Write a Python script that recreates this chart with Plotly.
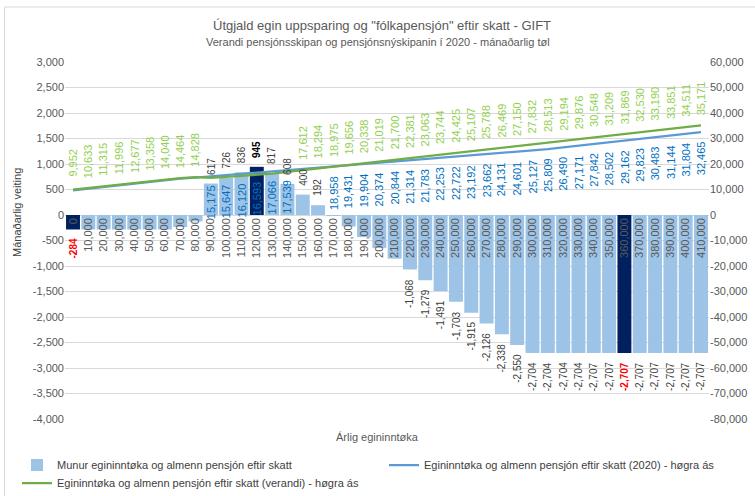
import plotly.graph_objects as go

# ---------------- data ----------------
categories = ["0", "10,000", "20,000", "30,000", "40,000", "50,000", "60,000", "70,000",
              "80,000", "90,000", "100,000", "110,000", "120,000", "130,000", "140,000",
              "150,000", "160,000", "170,000", "180,000", "190,000", "200,000", "210,000",
              "220,000", "230,000", "240,000", "250,000", "260,000", "270,000", "280,000",
              "290,000", "300,000", "310,000", "320,000", "330,000", "340,000", "350,000",
              "360,000", "370,000", "380,000", "390,000", "400,000", "410,000"]

munur = [-284, -284, -284, -284, -284, -284, -284, -235, -126, 617, 726, 836, 945, 817,
         608, 400, 192, -17, -225, -434, -645, -856, -1068, -1279, -1491, -1703, -1915,
         -2126, -2338, -2550, -2704, -2704, -2704, -2704, -2707, -2707, -2707, -2707,
         -2707, -2707, -2707, -2707]

pension_2020 = [9668, 10349, 11031, 11712, 12393, 13074, 13756, 14229, 14702, 15175, 15647,
                16120, 16593, 17066, 17539, 18012, 18486, 18958, 19431, 19904, 20374, 20844,
                21314, 21783, 22253, 22722, 23192, 23662, 24131, 24601, 25127, 25809, 26490,
                27171, 27842, 28502, 29162, 29823, 30483, 31144, 31804, 32465]

pension_verandi = [9952, 10633, 11315, 11996, 12677, 13358, 14040, 14464, 14828, 14558, 14921,
                   15284, 15648, 16249, 16931, 17612, 18294, 18975, 19656, 20338, 21019, 21700,
                   22381, 23063, 23744, 24425, 25107, 25788, 26469, 27150, 27832, 28513, 29194,
                   29876, 30548, 31209, 31869, 32530, 33190, 33851, 34511, 35171]

left_ticks = [-4000, -3500, -3000, -2500, -2000, -1500, -1000, -500, 0, 500, 1000, 1500,
              2000, 2500, 3000]
right_ticks = [-80000, -70000, -60000, -50000, -40000, -30000, -20000, -10000, 0, 10000,
               20000, 30000, 40000, 50000, 60000]

highlight_idx = [0, 12, 36]                 # dark bars
bar_label_idx = [0] + list(range(9, 17)) + list(range(22, 42))
blue_label_idx = list(range(9, 15)) + list(range(17, 42))
green_label_idx = list(range(0, 9)) + list(range(15, 42))

title = 'Útgjald egin uppsparing og "fólkapensjón" eftir skatt - GIFT'
subtitle = "Verandi pensjónsskipan og pensjónsnýskipanin í 2020 - mánaðarlig tøl"
names = ["Munur egininntøka og almenn pensjón eftir skatt",
         "Egininntøka og almenn pensjón eftir skatt (2020) - høgra ás",
         "Egininntøka og almenn pensjón eftir skatt (verandi) - høgra ás"]

# ---------------- style ----------------
FONT = "Liberation Sans, Arial, sans-serif"
GREY = "#595959"
LIGHT = "#9DC3E6"
DARK = "#002060"
BLUE = "#5B9BD5"
GREEN = "#70AD47"

W, H = 755, 496
ML, MR, MT, MB = 65, 46, 62, 77
PW, PH = W - ML - MR, H - MT - MB


def px_x(p):
    return (p - ML) / PW


def px_y(p):
    return (H - MB - p) / PH


def fmt(v):
    return f"{v:,}"


bar_colors = [DARK if i in highlight_idx else LIGHT for i in range(len(categories))]

fig = go.Figure()
fig.add_trace(go.Bar(x=categories, y=munur, marker=dict(color=bar_colors, line=dict(width=0)),
                     name=names[0], showlegend=False, hoverinfo="skip"))
# legend entry for the bars (light blue swatch)
fig.add_trace(go.Bar(x=[categories[0]], y=[None], marker=dict(color=LIGHT, line=dict(width=0)),
                     name=names[0], legend="legend", hoverinfo="skip"))
fig.add_trace(go.Scatter(x=categories, y=pension_2020, mode="lines", yaxis="y2",
                         line=dict(color=BLUE, width=2.25), name=names[1],
                         legend="legend2", hoverinfo="skip"))
fig.add_trace(go.Scatter(x=categories, y=pension_verandi, mode="lines", yaxis="y2",
                         line=dict(color=GREEN, width=2.25), name=names[2],
                         legend="legend3", hoverinfo="skip"))

ann = []
for i in bar_label_idx:
    v = munur[i]
    txt = fmt(v)
    color = "#404040"
    if i in (0, 36):
        txt, color = f"<b>{txt}</b>", "#FF0000"
    elif i == 12:
        txt, color = f"<b>{txt}</b>", "#000000"
    ann.append(dict(x=categories[i], y=v, xref="x", yref="y", text=txt, textangle=-90,
                    showarrow=False, yanchor="bottom" if v > 0 else "top",
                    yshift=7 if v > 0 else -7, font=dict(family=FONT, size=10, color=color)))
for i in blue_label_idx:
    ann.append(dict(x=categories[i], y=pension_2020[i], xref="x", yref="y2",
                    text=fmt(pension_2020[i]), textangle=-90, showarrow=False,
                    yanchor="middle", yshift=-26,
                    font=dict(family=FONT, size=11, color="#0070C0")))
for i in green_label_idx:
    ann.append(dict(x=categories[i], y=pension_verandi[i], xref="x", yref="y2",
                    text=fmt(pension_verandi[i]), textangle=-90, showarrow=False,
                    yanchor="middle", yshift=27,
                    font=dict(family=FONT, size=11, color="#92D050")))

ann.append(dict(x=px_x(382), y=px_y(26), xref="paper", yref="paper", text=title,
                showarrow=False, xanchor="center", yanchor="middle",
                font=dict(family=FONT, size=13, color=GREY)))
ann.append(dict(x=px_x(378), y=px_y(42), xref="paper", yref="paper", text=subtitle,
                showarrow=False, xanchor="center", yanchor="middle",
                font=dict(family=FONT, size=11, color=GREY)))
ann.append(dict(x=px_x(377), y=px_y(437), xref="paper", yref="paper", text="Árlig egininntøka",
                showarrow=False, xanchor="center", yanchor="middle",
                font=dict(family=FONT, size=11, color=GREY)))
ann.append(dict(x=px_x(17), y=px_y(213), xref="paper", yref="paper", text="Mánaðarlig veiting",
                showarrow=False, xanchor="center", yanchor="middle", textangle=-90,
                font=dict(family=FONT, size=11, color="#404040")))

legend_common = dict(bgcolor="rgba(0,0,0,0)", xanchor="left", yanchor="middle",
                     font=dict(family=FONT, size=11, color="#404040"), orientation="h")

fig.update_layout(
    width=W, height=H,
    margin=dict(l=ML, r=MR, t=MT, b=MB, autoexpand=False),
    paper_bgcolor="white", plot_bgcolor="white",
    barmode="overlay",
    bargap=0.09,
    showlegend=True,
    legend=dict(x=px_x(17), y=px_y(465), **legend_common),
    legend2=dict(x=px_x(384), y=px_y(465), **legend_common),
    legend3=dict(x=px_x(17), y=px_y(483), **legend_common),
    xaxis=dict(type="category", anchor="free", position=4 / 7, showline=False, showgrid=False,
               zeroline=False, ticks="", tickangle=-90, automargin=False,
               tickfont=dict(family=FONT, size=11, color=GREY)),
    yaxis=dict(range=[-4000, 3000], tickvals=left_ticks, ticktext=[fmt(v) for v in left_ticks],
               showgrid=True, gridcolor="#D9D9D9", gridwidth=1, zeroline=False, showline=False,
               automargin=False, tickfont=dict(family=FONT, size=11, color=GREY)),
    yaxis2=dict(range=[-80000, 60000], tickvals=right_ticks,
                ticktext=[fmt(v) for v in right_ticks], overlaying="y", side="right",
                anchor="x", showgrid=False, zeroline=False, showline=False, automargin=False,
                tickfont=dict(family=FONT, size=11, color=GREY)),
    annotations=ann,
    shapes=[dict(type="rect", xref="paper", yref="paper", x0=px_x(4.5), x1=px_x(770),
                 y0=px_y(510), y1=px_y(7), line=dict(color="#D9D9D9", width=1),
                 fillcolor="rgba(0,0,0,0)", layer="below")],
)

fig.write_html("out.html", config={"displayModeBar": False},
               post_script="document.body.style.margin='0px';document.body.style.overflow='hidden';")
